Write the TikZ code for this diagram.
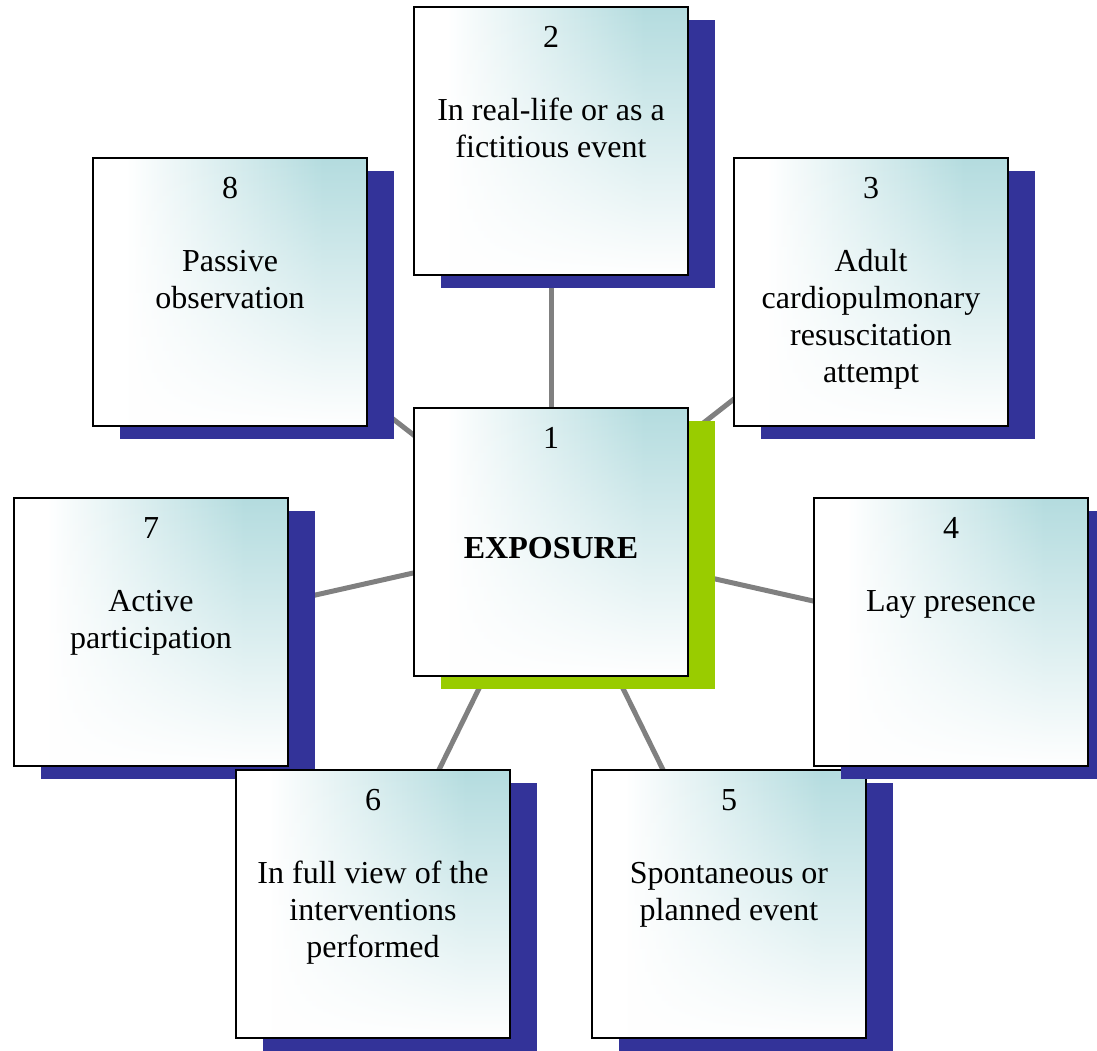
\documentclass[tikz,border=0pt]{standalone}
\usepackage{fontspec}
\setmainfont{Liberation Serif}
\usetikzlibrary{fadings}

\definecolor{cardteal}{HTML}{B4DCDF}
\definecolor{shadowblue}{HTML}{333399}
\definecolor{shadowgreen}{HTML}{99CC00}
\definecolor{linkgray}{HTML}{808080}

% horizontal part of the card fill: white on the left, teal on the right
\pgfdeclarehorizontalshading{cardshade}{100bp}{color(0bp)=(white); color(31bp)=(white); color(67bp)=(cardteal); color(100bp)=(cardteal)}
% white wash that grows towards the bottom of each card
\tikzfading[name=cardfade, top color=transparent!100, middle color=transparent!58, bottom color=transparent!0]

\pgfdeclarelayer{links}
\pgfsetlayers{links,main}

% #1 name, #2/#3 top-left corner, #4 shadow colour, #5 number, #6 text
\newcommand\drawcard[6]{%
  \fill[#4] (#2+27,#3+13) rectangle (#2+301,#3+281);
  \node[card] (#1) at (#2+137,#3+134) {};
  \node[numtext] (#1-num) at (#2+137,#3+40) {#5};
  \node[bodytext] (#1-body) at (#2+137,#3+87) {\strut #6};
}

\begin{document}
\begin{tikzpicture}[x=1pt, y=-1pt,
  card/.style={draw=black, line width=1.8pt, minimum width=274pt, minimum height=268pt, inner sep=0pt,
    path picture={
      \shade[shading=cardshade] (path picture bounding box.south west) rectangle (path picture bounding box.north east);
      \fill[white, path fading=cardfade] (path picture bounding box.south west) rectangle (path picture bounding box.north east);
    }},
  numtext/.style={font=\fontsize{32}{37}\selectfont, anchor=base, inner sep=0pt},
  bodytext/.style={font=\fontsize{32}{37}\selectfont, align=center, anchor=north, inner sep=0pt},
  link/.style={draw=linkgray, line width=5pt}]
\useasboundingbox (0,0) rectangle (1097,1050);
\clip (0,0) rectangle (1097,1050);

\drawcard{c2}{414}{7}{shadowblue}{2}{In real-life or as a\\fictitious event}
\drawcard{c8}{93}{158}{shadowblue}{8}{Passive\\observation}
\drawcard{c3}{734}{158}{shadowblue}{3}{Adult\\cardiopulmonary\\resuscitation\\attempt}
\drawcard{c1}{414}{408}{shadowgreen}{1}{\\\textbf{EXPOSURE}}
\drawcard{c7}{14}{498}{shadowblue}{7}{Active\\participation}
\drawcard{c6}{236}{770}{shadowblue}{6}{In full view of the\\interventions\\performed}
\drawcard{c5}{592}{770}{shadowblue}{5}{Spontaneous or\\planned event}
\drawcard{c4}{814}{498}{shadowblue}{4}{Lay presence}

% spokes from the centre card, kept behind all cards
\begin{pgfonlayer}{links}
  \foreach \t in {c2,c3,c4,c5,c6,c7,c8}
    \draw[link] (c1.center) -- (\t.center);
\end{pgfonlayer}
\end{tikzpicture}
\end{document}
